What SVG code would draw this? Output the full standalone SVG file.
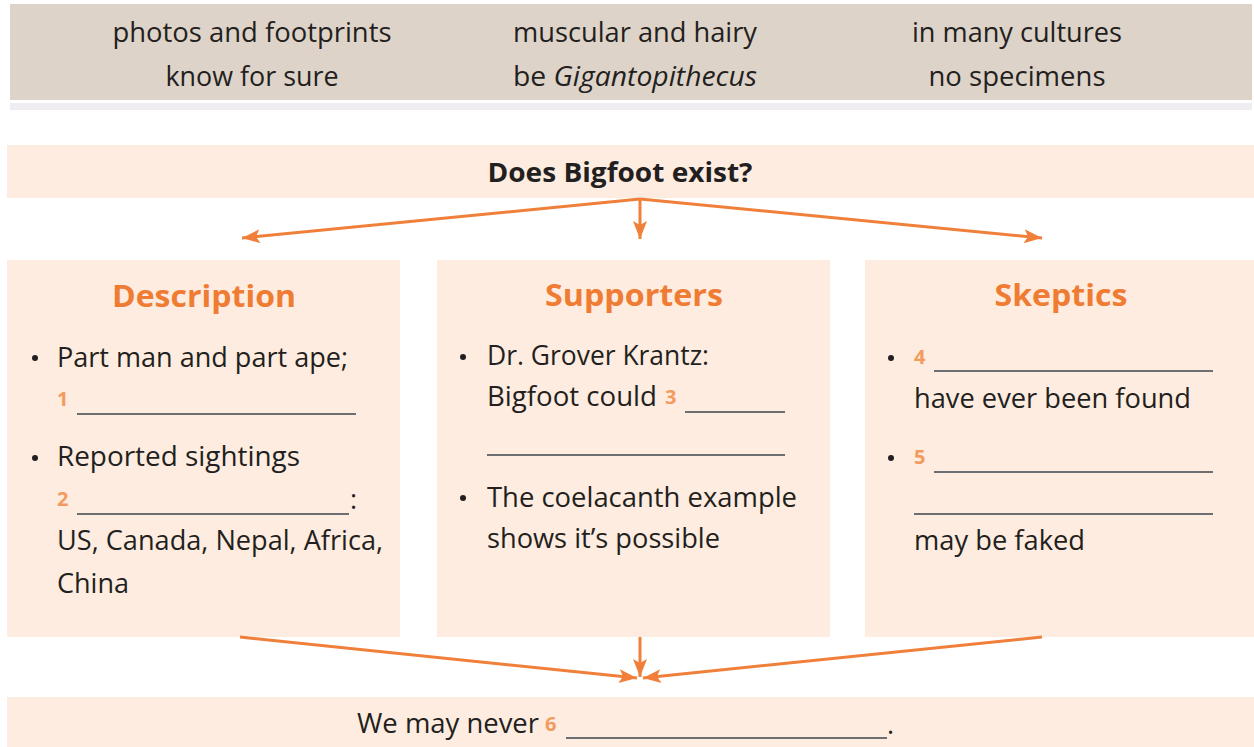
<svg xmlns="http://www.w3.org/2000/svg" width="1254" height="747" viewBox="0 0 1254 747">
<defs>
<style>
.band{fill:#fdecdf}
.top{font-family:"Open Sans","Liberation Sans",sans-serif;font-size:27px;fill:#231f20;text-anchor:middle}
.body{font-family:"Open Sans","Liberation Sans",sans-serif;font-size:27px;fill:#231f20}
.head{font-family:"Open Sans","Liberation Sans",sans-serif;font-size:30px;font-weight:bold;fill:#f07c33;text-anchor:middle}
.num{font-family:"Open Sans","Liberation Sans",sans-serif;font-size:20px;font-weight:bold;fill:#f39a5e}
.blank{stroke:#6d6e71;stroke-width:1.8}
.bullet{fill:#231f20}
.conn{stroke:#f07f3a;stroke-width:3;fill:none;marker-end:url(#ah)}
</style>
<marker id="ah" markerUnits="userSpaceOnUse" markerWidth="20" markerHeight="14" refX="18" refY="7" orient="auto">
<path d="M0,0 L18,7 L0,14 L4,7 Z" fill="#f07f3a"/>
</marker>
</defs>
<rect width="1254" height="747" fill="#ffffff"/>
<g id="wordbank">
<rect x="10" y="4" width="1242" height="96" fill="#ded3c8"/>
<rect x="10" y="103" width="1242" height="7" fill="#efedf1"/>
<text class="top" x="252" y="42" textLength="279" lengthAdjust="spacingAndGlyphs">photos and footprints</text>
<text class="top" x="635" y="42" textLength="244" lengthAdjust="spacingAndGlyphs">muscular and hairy</text>
<text class="top" x="1017" y="42" textLength="210" lengthAdjust="spacingAndGlyphs">in many cultures</text>
<text class="top" x="252" y="86" textLength="173" lengthAdjust="spacingAndGlyphs">know for sure</text>
<text class="top" x="635" y="86" textLength="244" lengthAdjust="spacingAndGlyphs">be <tspan font-style="italic">Gigantopithecus</tspan></text>
<text class="top" x="1017" y="86" textLength="177" lengthAdjust="spacingAndGlyphs">no specimens</text>
</g>
<g id="question">
<rect class="band" x="7" y="145" width="1247" height="53"/>
<text x="620" y="182" font-family="'Open Sans','Liberation Sans',sans-serif" font-size="26" font-weight="bold" fill="#231f20" text-anchor="middle" textLength="265" lengthAdjust="spacingAndGlyphs">Does Bigfoot exist?</text>
</g>
<g id="description">
<rect class="band" x="7" y="260" width="393" height="377"/>
<text class="head" x="204" y="307" textLength="184" lengthAdjust="spacingAndGlyphs">Description</text>
<circle class="bullet" cx="35" cy="358" r="3"/>
<text class="body" x="57" y="367" textLength="291" lengthAdjust="spacingAndGlyphs">Part man and part ape;</text>
<text class="num" x="57" y="406">1</text>
<line class="blank" x1="77" y1="414" x2="356" y2="414"/>
<circle class="bullet" cx="35" cy="458" r="3"/>
<text class="body" x="57" y="466" textLength="243" lengthAdjust="spacingAndGlyphs">Reported sightings</text>
<text class="num" x="57" y="506">2</text>
<line class="blank" x1="77" y1="514" x2="349" y2="514"/>
<text class="body" x="350" y="509">:</text>
<text class="body" x="57" y="550" textLength="326" lengthAdjust="spacingAndGlyphs">US, Canada, Nepal, Africa,</text>
<text class="body" x="57" y="593" textLength="72" lengthAdjust="spacingAndGlyphs">China</text>
</g>
<g id="supporters">
<rect class="band" x="437" y="260" width="393" height="377"/>
<text class="head" x="634" y="306" textLength="178" lengthAdjust="spacingAndGlyphs">Supporters</text>
<circle class="bullet" cx="463" cy="357" r="3"/>
<text class="body" x="487" y="365" textLength="222" lengthAdjust="spacingAndGlyphs">Dr. Grover Krantz:</text>
<text class="body" x="487" y="406" textLength="170" lengthAdjust="spacingAndGlyphs">Bigfoot could</text>
<text class="num" x="665" y="404">3</text>
<line class="blank" x1="685" y1="412" x2="785" y2="412"/>
<line class="blank" x1="487" y1="455" x2="785" y2="455"/>
<circle class="bullet" cx="463" cy="498" r="3"/>
<text class="body" x="487" y="507" textLength="310" lengthAdjust="spacingAndGlyphs">The coelacanth example</text>
<text class="body" x="487" y="548" textLength="233" lengthAdjust="spacingAndGlyphs">shows it’s possible</text>
</g>
<g id="skeptics">
<rect class="band" x="865" y="260" width="389" height="377"/>
<text class="head" x="1061" y="306" textLength="133" lengthAdjust="spacingAndGlyphs">Skeptics</text>
<circle class="bullet" cx="891" cy="358" r="3"/>
<text class="num" x="914" y="364">4</text>
<line class="blank" x1="934" y1="371" x2="1213" y2="371"/>
<text class="body" x="914" y="408" textLength="277" lengthAdjust="spacingAndGlyphs">have ever been found</text>
<circle class="bullet" cx="891" cy="458" r="3"/>
<text class="num" x="914" y="464">5</text>
<line class="blank" x1="934" y1="472" x2="1213" y2="472"/>
<line class="blank" x1="914" y1="514" x2="1213" y2="514"/>
<text class="body" x="914" y="550" textLength="171" lengthAdjust="spacingAndGlyphs">may be faked</text>
</g>
<g id="conclusion">
<rect class="band" x="7" y="697" width="1247" height="50"/>
<text class="body" x="357" y="733" textLength="182" lengthAdjust="spacingAndGlyphs">We may never</text>
<text class="num" x="545" y="731">6</text>
<line class="blank" x1="566" y1="738" x2="887" y2="738"/>
<text class="body" x="887" y="734">.</text>
</g>
<g id="connectors">
<path class="conn" d="M640,199 L242,238"/>
<path class="conn" d="M640,199 L640,239"/>
<path class="conn" d="M640,199 L1042,238"/>
<path class="conn" d="M240,637 L637,678"/>
<path class="conn" d="M640,637 L640,677"/>
<path class="conn" d="M1042,637 L643,678"/>
</g>
</svg>
